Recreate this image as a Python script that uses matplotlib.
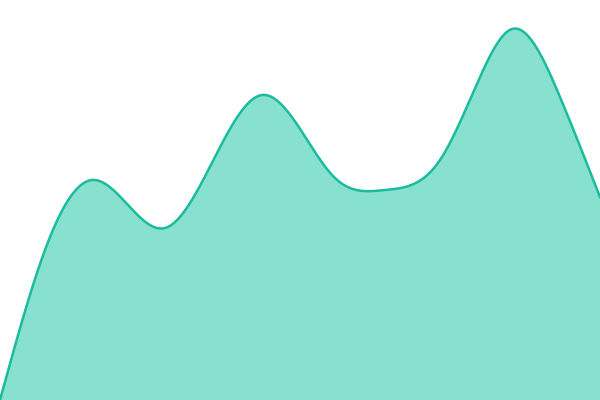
import numpy as np
import matplotlib
matplotlib.use("Agg")
import matplotlib.pyplot as plt

# data points (x position, value)
xs = [0, 50, 92, 165, 262, 335, 385, 440, 480, 512, 560, 600]
vals = [0, 163, 220, 172, 305, 222, 210, 240, 323, 371, 303, 203]


def natural_spline(x, y, n=60):
    # natural cubic spline, second derivatives from a small linear system
    x = np.asarray(x, float)
    y = np.asarray(y, float)
    k = len(x)
    h = np.diff(x)
    A = np.zeros((k, k))
    b = np.zeros(k)
    A[0, 0] = A[-1, -1] = 1
    for i in range(1, k - 1):
        A[i, i - 1] = h[i - 1]
        A[i, i] = 2 * (h[i - 1] + h[i])
        A[i, i + 1] = h[i]
        b[i] = 6 * ((y[i + 1] - y[i]) / h[i] - (y[i] - y[i - 1]) / h[i - 1])
    M = np.linalg.solve(A, b)
    px, py = [], []
    for i in range(k - 1):
        xx = np.linspace(x[i], x[i + 1], n)
        a = (x[i + 1] - xx) / h[i]
        c = (xx - x[i]) / h[i]
        yy = (a * y[i] + c * y[i + 1]
              + ((a**3 - a) * M[i] + (c**3 - c) * M[i + 1]) * h[i] ** 2 / 6)
        px.append(xx)
        py.append(yy)
    return np.concatenate(px), np.concatenate(py)


cx, cy = natural_spline(xs, vals)

fig = plt.figure(figsize=(6, 4), dpi=100)
ax = fig.add_axes([0, 0, 1, 1])
ax.fill_between(cx, cy, 0, color='#88e0cf', lw=0)
ax.plot(cx, cy, color='#1abc9c', lw=1.8)
ax.set_xlim(0, 600)
ax.set_ylim(0, 400)
ax.axis('off')

fig.savefig('out.png', dpi=100)
